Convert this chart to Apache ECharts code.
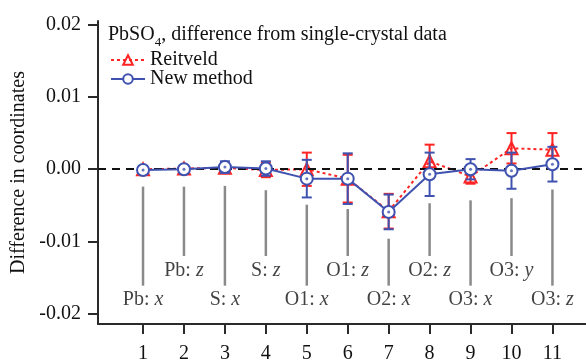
<!DOCTYPE html>
<html>
<head>
<meta charset="utf-8">
<script src="https://cdn.jsdelivr.net/npm/echarts@6/dist/echarts.min.js"></script>
<style>
    html, body {margin: 0; padding: 0; background: #fff;}
    #chart {width: 586px; height: 364px;}
</style>
</head>
<body>
<div id="chart"></div>
<script>
// parameter index along the x axis
const positions = [1, 2, 3, 4, 5, 6, 7, 8, 9, 10, 11];
const newMethod = [-0.0001, 0.0000, 0.0003, 0.0001, -0.0013, -0.0013, -0.0059, -0.0007, 0.0000, -0.0002, 0.0007];
const newMethodErr = [0.0002, 0.0002, 0.0008, 0.0010, 0.0026, 0.0035, 0.0024, 0.0030, 0.0014, 0.0025, 0.0024];
const reitveld = [0.0000, 0.0001, 0.0002, -0.0001, 0.0000, -0.0013, -0.0058, 0.0011, -0.0010, 0.0029, 0.0027];
const reitveldErr = [0.0002, 0.0002, 0.0005, 0.0010, 0.0023, 0.0033, 0.0024, 0.0023, 0.0010, 0.0021, 0.0023];
// parameter names
const atoms = ["Pb", "Pb", "S", "S", "O1", "O1", "O2", "O2", "O3", "O3", "O3"];
const coords = ["x", "z", "x", "z", "x", "z", "x", "z", "x", "y", "z"];
// where each grey pointer line starts (data units)
const stemTop = [-0.0024, -0.0024, -0.0023, -0.0029, -0.0049, -0.0055, -0.0096, -0.0047, -0.0043, -0.0040, -0.0028];
const yTicks = [-0.02, -0.01, 0, 0.01, 0.02];

const font = "'Liberation Serif', 'DejaVu Serif', serif";
const fontSize = 20;
const blue = "#3f52b0";
const red = "#ff2424";
const axisColor = "#2a2a2a";

// labels alternate between an upper and a lower row
const upperRow = {stemEnd: -0.0120, label: -0.0140};
const lowerRow = {stemEnd: -0.0161, label: -0.0181};
const rowOf = (i) => (i % 2 === 0 ? lowerRow : upperRow);

const chart = echarts.init(document.getElementById("chart"));

function errorBars(vals, errs, color, z) {
    return {
        type: "custom",
        silent: true,
        z: z,
        data: positions.map((x, i) => [x, vals[i] - errs[i], vals[i] + errs[i]]),
        encode: {x: 0, y: [1, 2]},
        renderItem: (params, api) => {
            const lo = api.coord([api.value(0), api.value(1)]);
            const hi = api.coord([api.value(0), api.value(2)]);
            const w = 5;
            const style = {stroke: color, lineWidth: 2};
            return {
                type: "group",
                children: [
                    {type: "line", shape: {x1: lo[0], y1: lo[1], x2: hi[0], y2: hi[1]}, style: style},
                    {type: "line", shape: {x1: lo[0] - w, y1: lo[1], x2: lo[0] + w, y2: lo[1]}, style: style},
                    {type: "line", shape: {x1: hi[0] - w, y1: hi[1], x2: hi[0] + w, y2: hi[1]}, style: style}
                ]
            };
        }
    };
}

chart.setOption({
    animation: false,
    backgroundColor: "#fff",
    textStyle: {fontFamily: font},
    title: {
        text: "{a|PbSO}{s|4}{a|, difference from single-crystal data}",
        left: 108,
        top: 23,
        padding: 0,
        textStyle: {
            fontWeight: "normal",
            rich: {
                a: {fontFamily: font, fontSize: fontSize, fontWeight: "normal", color: "#111", verticalAlign: "bottom", lineHeight: 22},
                s: {fontFamily: font, fontSize: 13, fontWeight: "normal", color: "#111", verticalAlign: "bottom", lineHeight: 16, padding: [0, 0, -4, 0]}
            }
        }
    },
    legend: {
        data: ["Reitveld", "New method"],
        orient: "vertical",
        left: 110,
        top: 50,
        padding: 0,
        itemGap: -1,
        itemWidth: 34,
        itemHeight: 12,
        textStyle: {fontFamily: font, fontSize: fontSize, color: "#111"}
    },
    grid: {left: 98, right: 0, top: 21, bottom: 35, containLabel: false},
    xAxis: {
        type: "value",
        min: -0.1,
        max: 11.82,
        splitLine: {show: false},
        axisLine: {onZero: false, lineStyle: {color: axisColor, width: 2}},
        axisTick: {customValues: positions, length: 10, lineStyle: {color: axisColor, width: 2}},
        axisLabel: {customValues: positions, fontFamily: font, fontSize: fontSize, color: "#111", margin: 20}
    },
    yAxis: {
        type: "value",
        min: -0.0214,
        max: 0.0205,
        name: "Difference in coordinates",
        nameLocation: "middle",
        nameGap: 65,
        nameTextStyle: {fontFamily: font, fontSize: fontSize, color: "#111"},
        splitLine: {show: false},
        axisLine: {show: true, onZero: false, lineStyle: {color: axisColor, width: 2}},
        axisTick: {customValues: yTicks, length: 10, lineStyle: {color: axisColor, width: 2}},
        axisLabel: {
            customValues: yTicks,
            fontFamily: font, fontSize: fontSize, color: "#111", margin: 17,
            formatter: (v) => v.toFixed(2)
        }
    },
    series: [
        {
            // grey pointer lines from the points to the parameter names
            type: "custom",
            silent: true,
            z: 1,
            data: positions.map((x, i) => [x, stemTop[i], rowOf(i).stemEnd]),
            encode: {x: 0, y: [1, 2]},
            renderItem: (params, api) => {
                const a = api.coord([api.value(0), api.value(1)]);
                const b = api.coord([api.value(0), api.value(2)]);
                return {type: "line", shape: {x1: a[0], y1: a[1], x2: b[0], y2: b[1]}, style: {stroke: "#8a8a8a", lineWidth: 2.5}};
            }
        },
        {
            // parameter names
            type: "scatter",
            silent: true,
            z: 1,
            symbolSize: 0,
            data: positions.map((x, i) => [x, rowOf(i).label]),
            label: {
                show: true,
                position: "inside",
                formatter: (p) => `{a|${atoms[p.dataIndex]}: }{b|${coords[p.dataIndex]}}`,
                rich: {
                    a: {fontFamily: font, fontSize: fontSize, color: "#111"},
                    b: {fontFamily: font, fontSize: fontSize, color: "#111", fontStyle: "italic"}
                }
            }
        },
        {
            // zero reference line
            type: "line",
            silent: true,
            z: 2,
            data: [],
            markLine: {
                silent: true,
                symbol: ["none", "none"],
                label: {show: false},
                lineStyle: {color: "#111", width: 2, type: [8, 6]},
                data: [{yAxis: 0}]
            }
        },
        errorBars(reitveld, reitveldErr, red, 3),
        {
            name: "Reitveld",
            type: "line",
            z: 4,
            data: positions.map((x, i) => [x, reitveld[i]]),
            symbol: "triangle",
            symbolSize: 12,
            lineStyle: {color: red, width: 2, type: [3, 3]},
            itemStyle: {color: "rgba(255,255,255,0)", borderColor: red, borderWidth: 2}
        },
        errorBars(newMethod, newMethodErr, blue, 5),
        {
            name: "New method",
            type: "line",
            z: 6,
            data: positions.map((x, i) => [x, newMethod[i]]),
            symbol: "circle",
            symbolSize: 12,
            lineStyle: {color: blue, width: 2},
            itemStyle: {color: "#fff", borderColor: blue, borderWidth: 2}
        },
        {
            // centre dots of the circle markers
            type: "scatter",
            silent: true,
            z: 7,
            symbolSize: 3,
            itemStyle: {color: blue},
            data: positions.map((x, i) => [x, newMethod[i]])
        }
    ]
});
</script>
</body>
</html>
